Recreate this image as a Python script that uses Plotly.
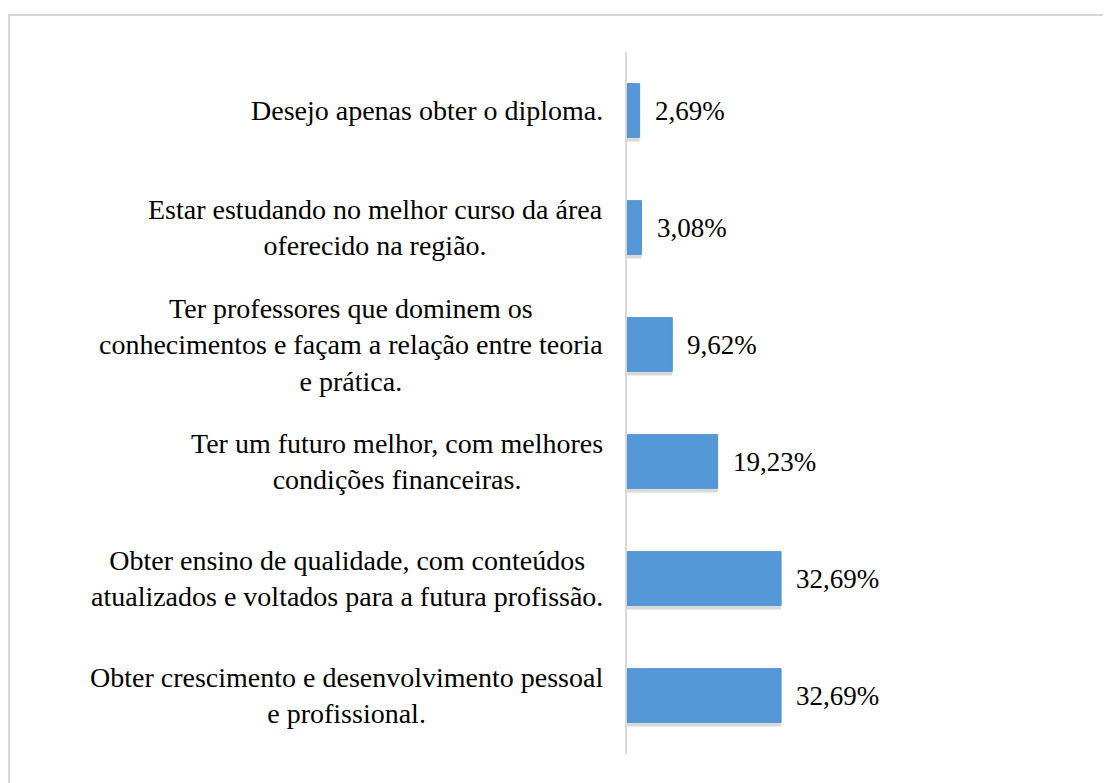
import plotly.graph_objects as go

categories = [
    "Desejo apenas obter o diploma.",
    "Estar estudando no melhor curso da área<br>oferecido na região.",
    "Ter professores que dominem os<br>conhecimentos e façam a relação entre teoria<br>e prática.",
    "Ter um futuro melhor, com melhores<br>condições financeiras.",
    "Obter ensino de qualidade, com conteúdos<br>atualizados e voltados para a futura profissão.",
    "Obter crescimento e desenvolvimento pessoal<br>e profissional.",
]
values = [2.69, 3.08, 9.62, 19.23, 32.69, 32.69]
value_labels = ["2,69%", "3,08%", "9,62%", "19,23%", "32,69%", "32,69%"]

FONT = "Liberation Serif"
FS_CAT = 28
FS_VAL = 27
ids = list(range(len(categories)))

OFF = 8  # page offset
L = 627 - OFF
T = 52 - OFF
BOT = 754 - OFF
W_PLOT = 165
H_PLOT = BOT - T

fig = go.Figure()
fig.add_trace(go.Bar(
    x=values, y=[i + 0.035 for i in ids], orientation="h", width=0.46,
    marker=dict(color="rgba(0,0,0,0.15)", line=dict(width=0)),
    hoverinfo="skip", showlegend=False,
))
fig.add_trace(go.Bar(
    x=values, y=ids, orientation="h", width=0.46,
    marker=dict(color="#5598d8", line=dict(color="#4a8acb", width=0.8)),
    showlegend=False,
))

annotations = []
for i, (c, v, t) in enumerate(zip(categories, values, value_labels)):
    annotations.append(dict(
        x=0, y=i, xref="x", yref="y", text=c, showarrow=False,
        xanchor="right", yanchor="middle", align="center", xshift=-22,
        font=dict(family=FONT, size=FS_CAT, color="#000000"),
    ))
    annotations.append(dict(
        x=v, y=i, xref="x", yref="y", text=t, showarrow=False,
        xanchor="left", yanchor="middle", xshift=13,
        font=dict(family=FONT, size=FS_VAL, color="#000000"),
    ))

fig.update_layout(
    width=1111, height=783,
    margin=dict(l=L, r=1111 - L - W_PLOT, t=T, b=783 - BOT),
    paper_bgcolor="white", plot_bgcolor="white",
    barmode="overlay",
    xaxis=dict(range=[0, 35], visible=False, fixedrange=True),
    yaxis=dict(range=[5.5, -0.5], showticklabels=False, showgrid=False,
               zeroline=False, showline=True, linecolor="#d9d9d9", linewidth=1.5,
               ticks=""),
    annotations=annotations,
    shapes=[dict(
        type="rect", xref="paper", yref="paper",
        x0=(1 - L) / W_PLOT, x1=(1120 - L) / W_PLOT,
        y0=(BOT - 800) / H_PLOT, y1=(BOT - 7) / H_PLOT,
        line=dict(color="#d9d9d9", width=2), fillcolor="rgba(0,0,0,0)", layer="below",
    )],
)

fig.write_html("out.html")
